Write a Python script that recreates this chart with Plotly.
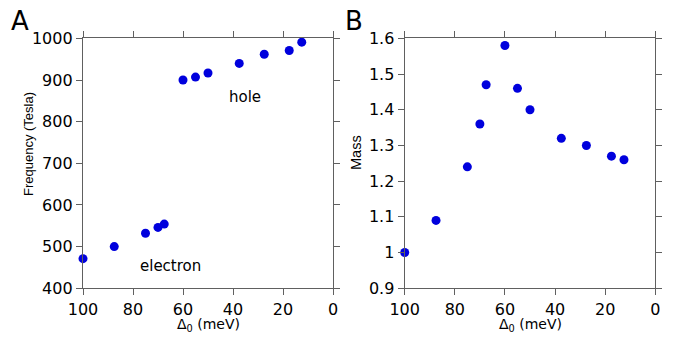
import plotly.graph_objects as go
from plotly.subplots import make_subplots

delta0 = [100, 87.5, 75, 70, 67.5, 60, 55, 50, 37.5, 27.5, 17.5, 12.5]
frequency = [471, 500, 532, 546, 554, 900, 907, 917, 940, 962, 971, 991]
mass = [1.00, 1.09, 1.24, 1.36, 1.47, 1.58, 1.46, 1.40, 1.32, 1.30, 1.27, 1.26]

FONT = "DejaVu Sans, Liberation Sans, Arial"
FONT2 = "Liberation Sans, Arial"
BLUE = "#0000dd"
AX = "#606060"

# page body has an 8px margin; figure is sized to fill the rest of the window
W, H = 669, 331
OFF = 8


def px(x):
    return (x - OFF) / W


def py(y):
    return 1 - (y - OFF) / H


fig = make_subplots(rows=1, cols=2)
fig.add_trace(go.Scatter(x=delta0, y=frequency, mode="markers",
                         marker=dict(color=BLUE, size=9), cliponaxis=False,
                         showlegend=False), row=1, col=1)
fig.add_trace(go.Scatter(x=delta0, y=mass, mode="markers",
                         marker=dict(color=BLUE, size=9), cliponaxis=False,
                         showlegend=False), row=1, col=2)

common_x = dict(range=[100, 0], tickvals=[100, 80, 60, 40, 20, 0],
                ticks="outside", ticklen=6, tickcolor=AX, tickwidth=1.3, showline=True,
                linecolor=AX, linewidth=1.3, mirror="ticks", showgrid=False,
                zeroline=False, automargin=False,
                tickfont=dict(size=16, color="black", family=FONT))
fig.update_xaxes(**common_x)
fig.update_xaxes(domain=[px(83), px(333)], row=1, col=1)
fig.update_xaxes(domain=[px(404.7), px(655.3)], row=1, col=2)

common_y = dict(ticks="outside", ticklen=6, tickcolor=AX, tickwidth=1.3, showline=True,
                linecolor=AX, linewidth=1.3, mirror="ticks", showgrid=False,
                zeroline=False, automargin=False,
                tickfont=dict(size=16, color="black", family=FONT),
                domain=[py(288.2), py(38.4)])
fig.update_yaxes(**common_y)
fig.update_yaxes(range=[400, 1000], tickvals=[400, 500, 600, 700, 800, 900, 1000],
                 row=1, col=1)
fig.update_yaxes(range=[0.9, 1.6], tickvals=[0.9, 1.0, 1.1, 1.2, 1.3, 1.4, 1.5, 1.6],
                 ticktext=["0.9", "1", "1.1", "1.2", "1.3", "1.4", "1.5", "1.6"],
                 row=1, col=2)

tfont = dict(size=14, color="black", family=FONT)
# axis titles
fig.add_annotation(text="Δ<sub>0</sub> (meV)", x=px(208), y=py(325), xref="paper", yref="paper",
                   showarrow=False, font=tfont, xanchor="center", yanchor="middle")
fig.add_annotation(text="Δ<sub>0</sub> (meV)", x=px(530), y=py(325), xref="paper", yref="paper",
                   showarrow=False, font=tfont, xanchor="center", yanchor="middle")
fig.add_annotation(text="Frequency (Tesla)", x=px(28), y=py(144), xref="paper", yref="paper",
                   showarrow=False, font=dict(size=13, color="black", family=FONT2),
                   textangle=-90, xanchor="center", yanchor="middle")
fig.add_annotation(text="Mass", x=px(356), y=py(152), xref="paper", yref="paper",
                   showarrow=False, font=dict(size=14.5, color="black", family=FONT2),
                   textangle=-90, xanchor="center", yanchor="middle")

fig.add_annotation(text="hole", x=35.2, y=859, xref="x", yref="y", showarrow=False,
                   font=dict(size=15, color="black", family=FONT))
fig.add_annotation(text="electron", x=65.2, y=453, xref="x", yref="y", showarrow=False,
                   font=dict(size=15, color="black", family=FONT))
fig.add_annotation(text="A", x=px(9), y=py(21), xref="paper", yref="paper",
                   xanchor="left", yanchor="middle",
                   showarrow=False, font=dict(size=26, color="black", family=FONT))
fig.add_annotation(text="B", x=px(343), y=py(21), xref="paper", yref="paper",
                   xanchor="left", yanchor="middle",
                   showarrow=False, font=dict(size=26, color="black", family=FONT))

fig.update_layout(width=W, height=H, margin=dict(l=0, r=0, t=0, b=0),
                  plot_bgcolor="white", paper_bgcolor="white",
                  font=dict(family=FONT, color="black"))
fig.write_html("out.html")
